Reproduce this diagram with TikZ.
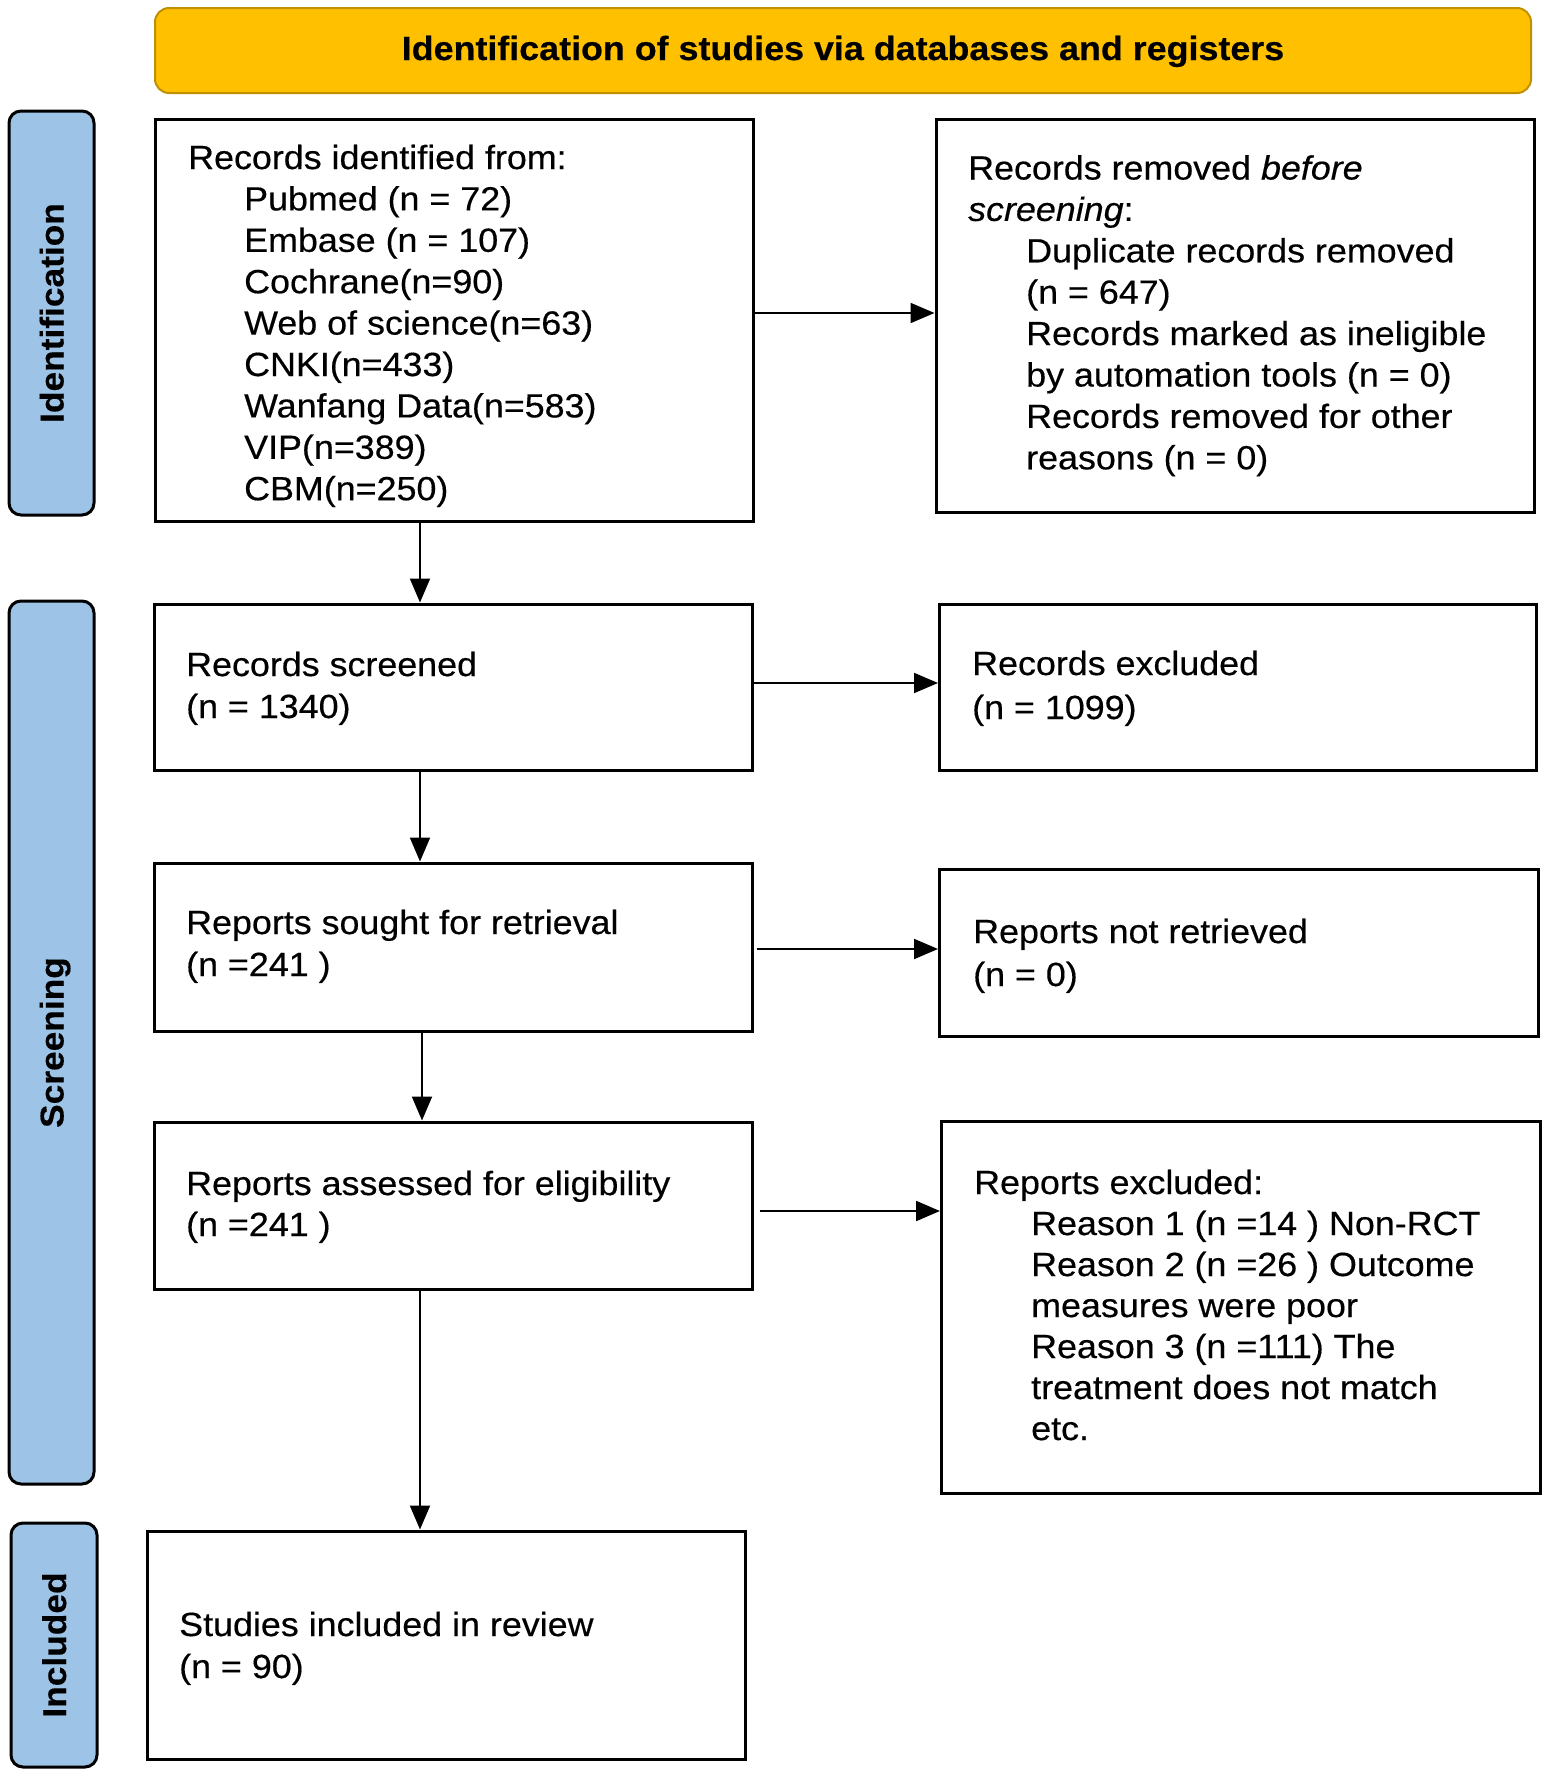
\documentclass[tikz,border=0pt]{standalone}
\usepackage{fontspec}
\setmainfont{Liberation Sans}[FakeStretch=1.07,FakeBold=0.4]
\usetikzlibrary{arrows.meta}
\definecolor{bannerfill}{HTML}{FFC000}
\definecolor{bannerdraw}{HTML}{BF9000}
\definecolor{sidefill}{HTML}{9DC3E6}
\begin{document}
\begin{tikzpicture}[x=1pt,y=-1pt,
  box/.style={draw=black, line width=3pt, inner sep=0pt, fill=white},
  txt/.style={anchor=base west, inner sep=0pt, font=\fontsize{33.5}{41}\selectfont},
  arr/.style={line width=2pt, -{Triangle[length=24pt,width=20pt]}},
  side/.style={draw=black, line width=3pt, fill=sidefill, rounded corners=12pt, inner sep=0pt},
  sidetxt/.style={rotate=90, font=\bfseries\fontsize{33}{40}\selectfont, text height=24pt, text depth=0pt, inner sep=0pt}]

\fill[white] (0,0) rectangle (1547,1770);
\useasboundingbox (0,0) rectangle (1547,1770);

% banner
\node[draw=bannerdraw, fill=bannerfill, line width=2pt, rounded corners=14pt, minimum width=1376pt, minimum height=85pt, inner sep=0pt] (ban) at (843,50.5) {};
\node[anchor=base, inner sep=0pt, font=\bfseries\fontsize{33.5}{40}\selectfont] (bant) at (843,60) {Identification of studies via databases and registers};

% sidebars
\node[side, minimum width=85pt, minimum height=404pt] (s1) at (51.5,313) {};
\node[sidetxt] (s1t) at (s1.center) {Identification};
\node[side, minimum width=85pt, minimum height=883pt] (s2) at (51.5,1042.5) {};
\node[sidetxt] (s2t) at (s2.center) {Screening};
\node[side, minimum width=86pt, minimum height=244pt] (s3) at (54,1645) {};
\node[sidetxt] (s3t) at (s3.center) {Included};

% boxes
\node[box, minimum width=598pt, minimum height=402pt] (b1) at (454,320) {};
\node[box, minimum width=598pt, minimum height=393pt] (b2) at (1235,315.5) {};
\node[box, minimum width=598pt, minimum height=166pt] (b3) at (453,687) {};
\node[box, minimum width=597pt, minimum height=166pt] (e1) at (1238,687) {};
\node[box, minimum width=598pt, minimum height=168pt] (b4) at (453,947) {};
\node[box, minimum width=599pt, minimum height=167pt] (e2) at (1239,952.5) {};
\node[box, minimum width=598pt, minimum height=167pt] (b5) at (453,1205.5) {};
\node[box, minimum width=599pt, minimum height=372pt] (e3) at (1241,1307) {};
\node[box, minimum width=598pt, minimum height=228pt] (b6) at (446,1645) {};

% box 1 text
\node[txt] (t1h) at (188,169) {Records identified from:};
\foreach \t [count=\i from 1] in {Pubmed (n = 72), Embase (n = 107), Cochrane(n=90), Web of science(n=63), CNKI(n=433), Wanfang Data(n=583), VIP(n=389), CBM(n=250)}
  \node[txt] (t1-\i) at (244,{169+41.4*\i}) {\t};

% box 2 text
\node[txt] (t2a) at (968,179.5) {Records removed \textit{before}};
\node[txt] (t2b) at (968,220.9) {\textit{screening}:};
\foreach \t [count=\i from 2] in {Duplicate records removed, (n = 647), Records marked as ineligible, by automation tools (n = 0), Records removed for other, reasons (n = 0)}
  \node[txt] (t2-\i) at (1026,{179.5+41.4*\i}) {\t};

% other boxes
\node[txt] (t3a) at (186,676) {Records screened};
\node[txt] (t3b) at (186,718) {(n = 1340)};
\node[txt] (te1a) at (972,675) {Records excluded};
\node[txt] (te1b) at (972,719) {(n = 1099)};
\node[txt] (t4a) at (186,934) {Reports sought for retrieval};
\node[txt] (t4b) at (186,976) {(n =241 )};
\node[txt] (te2a) at (973,943) {Reports not retrieved};
\node[txt] (te2b) at (973,986) {(n = 0)};
\node[txt] (t5a) at (186,1195) {Reports assessed for eligibility};
\node[txt] (t5b) at (186,1236) {(n =241 )};
\node[txt] (te3h) at (974,1194) {Reports excluded:};
\foreach \t [count=\i from 1] in {Reason 1 (n =14 ) Non-RCT, Reason 2 (n =26 ) Outcome, measures were poor, Reason 3 (n =111) The, treatment does not match, etc.}
  \node[txt] (te3-\i) at (1031,{1194+41*\i}) {\t};
\node[txt] (t6a) at (179,1636) {Studies included in review};
\node[txt] (t6b) at (179,1678) {(n = 90)};

% connectors
\coordinate (ax) at (420,0);
\coordinate (ax2) at (422,0);
\coordinate (ay1) at (0,313);
\coordinate (ay2) at (0,683);
\coordinate (ay3) at (0,949);
\coordinate (ay4) at (0,1211);
\draw[arr] (b1.south -| ax) -- (b3.north -| ax);
\draw[arr] (b3.south -| ax) -- (b4.north -| ax);
\draw[arr] (b4.south -| ax2) -- (b5.north -| ax2);
\draw[arr] (b5.south -| ax) -- (b6.north -| ax);
\draw[arr] (b1.east |- ay1) -- (b2.west |- ay1);
\draw[arr] (b3.east |- ay2) -- (e1.west |- ay2);
\draw[arr, shorten <=3pt] (b4.east |- ay3) -- (e2.west |- ay3);
\draw[arr, shorten <=6pt] (b5.east |- ay4) -- (e3.west |- ay4);
\end{tikzpicture}
\end{document}
